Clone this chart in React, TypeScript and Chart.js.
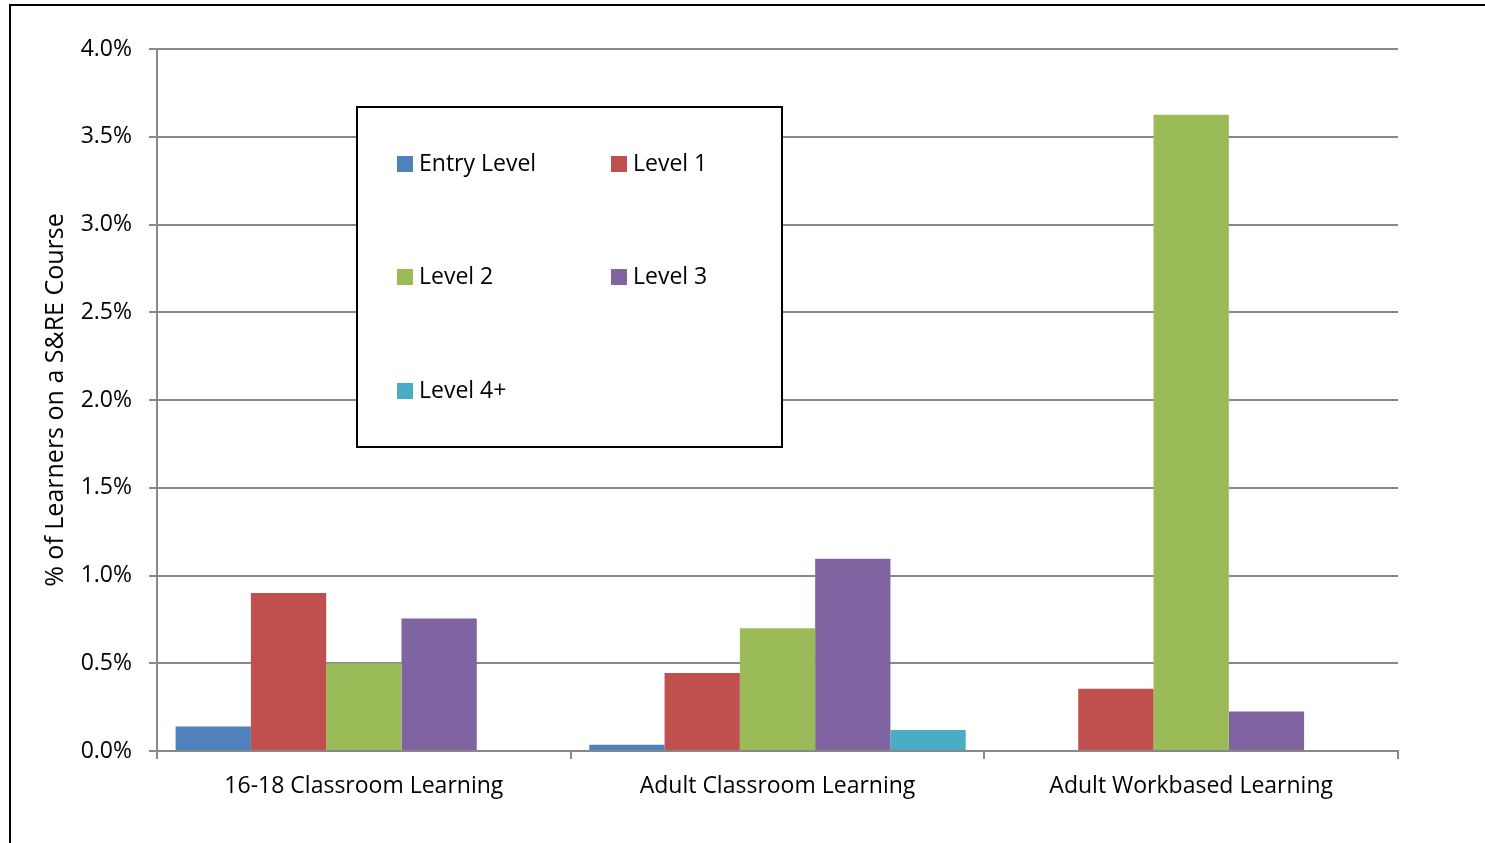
import React, { useEffect, useRef } from "react";
import { Chart, registerables } from "chart.js";

Chart.register(...registerables);

const categories = ["16-18 Classroom Learning", "Adult Classroom Learning", "Adult Workbased Learning"];
const seriesNames = ["Entry Level", "Level 1", "Level 2", "Level 3", "Level 4+"];
const seriesColors = ["#4F81BD", "#C0504D", "#9BBB59", "#8064A2", "#4BACC6"];
const entryLevel = [0.14, 0.035, 0];
const level1 = [0.9, 0.445, 0.355];
const level2 = [0.5, 0.7, 3.625];
const level3 = [0.755, 1.095, 0.225];
const level4plus = [0, 0.12, 0];
const seriesValues = [entryLevel, level1, level2, level3, level4plus];
const yTicks = [0, 0.5, 1.0, 1.5, 2.0, 2.5, 3.0, 3.5, 4.0];
const yTitle = "% of Learners on a S&RE Course";

const FONT = "'Open Sans', sans-serif";

const legendPlugin = {
  id: "boxLegend",
  afterDraw(chart: any) {
    const ctx = chart.ctx;
    ctx.save();
    const bx = 357, by = 107, bw = 425, bh = 340;
    ctx.fillStyle = "#ffffff";
    ctx.fillRect(bx, by, bw, bh);
    ctx.strokeStyle = "#000000";
    ctx.lineWidth = 2;
    ctx.strokeRect(bx, by, bw, bh);
    const cols = [397, 611];
    const rows = [164, 277, 391];
    ctx.font = `23px ${FONT}`;
    ctx.textBaseline = "middle";
    ctx.textAlign = "left";
    seriesNames.forEach((name, i) => {
      const x = cols[i % 2];
      const y = rows[Math.floor(i / 2)];
      ctx.fillStyle = seriesColors[i];
      ctx.fillRect(x, y - 8, 16, 16);
      ctx.fillStyle = "#000000";
      ctx.fillText(name, x + 22, y);
    });
    ctx.restore();
  },
};

export default function App() {
  const ref = useRef<HTMLCanvasElement>(null);
  useEffect(() => {
    if (!ref.current) return;
    const chart = new Chart(ref.current, {
      type: "bar",
      data: {
        labels: categories,
        datasets: seriesNames.map((name, i) => ({
          label: name,
          data: seriesValues[i],
          backgroundColor: seriesColors[i],
          borderWidth: 0,
          categoryPercentage: 0.91,
          barPercentage: 1.0,
        })),
      },
      plugins: [legendPlugin],
      options: {
        responsive: false,
        animation: false,
        maintainAspectRatio: false,
        layout: { padding: { left: 0, top: 49, right: 87, bottom: 0 } },
        plugins: { legend: { display: false }, tooltip: { enabled: false } },
        scales: {
          x: {
            afterFit: (s: any) => { s.height = 92; },
            grid: { display: true, drawOnChartArea: false, drawTicks: true, tickLength: 8, offset: true, color: "#888888", lineWidth: 2 },
            border: { display: true, color: "#888888", width: 2 },
            ticks: { color: "#000000", font: { family: FONT, size: 23 }, padding: 14, maxRotation: 0 },
          },
          y: {
            min: 0,
            max: 4,
            afterFit: (s: any) => { s.width = 157; },
            afterBuildTicks: (s: any) => { s.ticks = yTicks.map((v) => ({ value: v })); },
            grid: { color: "#888888", lineWidth: 2, tickLength: 8, drawTicks: true },
            border: { display: true, color: "#888888", width: 2 },
            ticks: {
              color: "#000000",
              font: { family: FONT, size: 23 },
              padding: 17,
              callback: (v: any) => Number(v).toFixed(1) + "%",
            },
            title: {
              display: true,
              text: yTitle,
              color: "#000000",
              font: { family: FONT, size: 25 },
              padding: { top: 41, bottom: 0 },
            },
          },
        },
      },
    } as any);
    return () => chart.destroy();
  }, []);
  return (
    <div style={{ position: "absolute", left: 0, top: 0, width: 1485, height: 843, overflow: "hidden", background: "#fff" }}>
      <div style={{ position: "absolute", left: 9, top: 4, width: 1500, height: 860, border: "2px solid #000", boxSizing: "border-box" }} />
      <canvas ref={ref} width={1485} height={843} style={{ position: "absolute", left: 0, top: 0 }} />
    </div>
  );
}
